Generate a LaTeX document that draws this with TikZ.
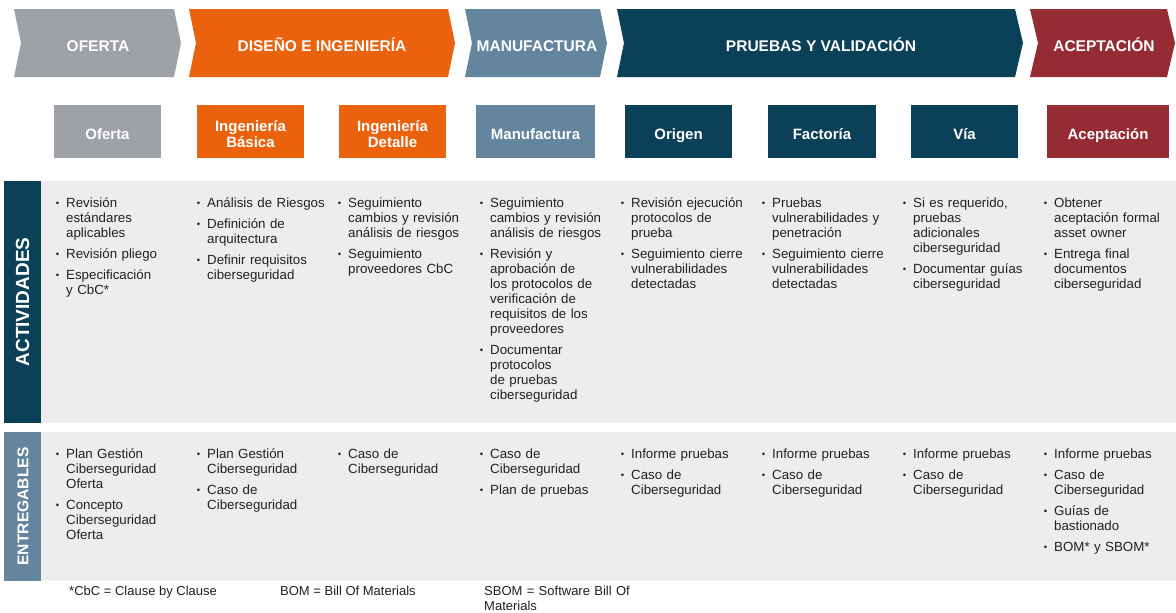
\documentclass[tikz,border=0pt]{standalone}
\usepackage{fontspec}
\setmainfont{Liberation Sans}
\usepackage{graphicx}
\definecolor{cgray}{RGB}{158,161,166}
\definecolor{corange}{RGB}{234,97,14}
\definecolor{csteel}{RGB}{100,133,158}
\definecolor{cteal}{RGB}{10,64,88}
\definecolor{cred}{RGB}{149,44,51}
\definecolor{cpanel}{RGB}{237,237,237}
\definecolor{ctext}{RGB}{33,33,33}
\newcommand{\bmark}{\llap{\raisebox{0.9pt}{\scalebox{0.72}{\textbullet}}\hspace{7pt}}}
\newcommand{\bfirst}{\leavevmode\bmark}
\newcommand{\bitem}{\par\leavevmode\bmark}
\tikzset{
  htext/.style={anchor=base, inner sep=0pt, text=white, font=\fontsize{15.5}{16}\selectfont\bfseries},
  boxshape/.style={inner sep=0pt, minimum height=53pt},
  btext/.style={anchor=base, inner sep=0pt, text=white, text width=120pt, align=center, font=\fontsize{15}{16.5}\selectfont\bfseries},
  col/.style={anchor=base west, inner sep=0pt, text width=136pt, align=left, text=ctext,
    font=\fontsize{13.3}{15}\selectfont, execute at begin node={\setlength{\parskip}{6pt}}},
  vlabel/.style={rotate=90, inner sep=0pt, text=white, font=\bfseries},
  fn/.style={anchor=base west, inner sep=0pt, text=ctext, align=left, font=\fontsize{13}{15}\selectfont}
}
\begin{document}
\begin{tikzpicture}[x=1pt,y=-1pt]
\useasboundingbox (0,0) rectangle (1176,613);
\fill[white] (0,0) rectangle (1176,613);
% header chevrons
\fill[cgray]   (14,9)   -- (174,9)  -- (181,43)  -- (174,77)  -- (14,77)   -- (21,43)   -- cycle;
\fill[corange] (189,9)  -- (448,9)  -- (455,43)  -- (448,77)  -- (189,77)  -- (196,43)  -- cycle;
\fill[csteel]  (465,9)  -- (600,9)  -- (607,43)  -- (600,77)  -- (465,77)  -- (472,43)  -- cycle;
\fill[cteal]   (617,9)  -- (1015,9) -- (1023,43) -- (1015,77) -- (617,77)  -- (624,43)  -- cycle;
\fill[cred]    (1030,9) -- (1167,9) -- (1175,43) -- (1167,77) -- (1030,77) -- (1038,43) -- cycle;
\node[htext] (h1) at (98,51) {OFERTA};
\node[htext] (h2) at (322,51) {DISEÑO E INGENIERÍA};
\node[htext] (h3) at (537,51) {MANUFACTURA};
\node[htext] (h4) at (821,51) {PRUEBAS Y VALIDACIÓN};
\node[htext] (h5) at (1104,51) {ACEPTACIÓN};
% phase boxes
\node[boxshape, fill=cgray,   minimum width=107pt] (b1) at (107.5,131.5) {};
\node[boxshape, fill=corange, minimum width=107pt] (b2) at (250.5,131.5) {};
\node[boxshape, fill=corange, minimum width=107pt] (b3) at (392.5,131.5) {};
\node[boxshape, fill=csteel,  minimum width=119pt] (b4) at (535.5,131.5) {};
\node[boxshape, fill=cteal,   minimum width=107pt] (b5) at (678.5,131.5) {};
\node[boxshape, fill=cteal,   minimum width=108pt] (b6) at (822,131.5) {};
\node[boxshape, fill=cteal,   minimum width=107pt] (b7) at (964.5,131.5) {};
\node[boxshape, fill=cred,    minimum width=122pt] (b8) at (1108,131.5) {};
\node[btext] (t1) at (107.5,139) {Oferta};
\node[btext] (t2) at (250.5,131) {Ingeniería\\Básica};
\node[btext] (t3) at (392.5,131) {Ingeniería\\Detalle};
\node[btext] (t4) at (535.5,139) {Manufactura};
\node[btext] (t5) at (678.5,139) {Origen};
\node[btext] (t6) at (822,139) {Factoría};
\node[btext] (t7) at (964.5,139) {Vía};
\node[btext] (t8) at (1108,139) {Aceptación};
% panels
\fill[cpanel] (4,181) rectangle (1176,423);
\fill[cteal]  (4,181) rectangle (41,423);
\fill[cpanel] (4,432) rectangle (1176,581);
\fill[csteel] (4,432) rectangle (41,581);
\node[vlabel, font=\fontsize{19}{19}\selectfont\bfseries] (lab1) at (22.5,302) {ACTIVIDADES};
\node[vlabel, font=\fontsize{15.6}{16}\selectfont\bfseries] (lab2) at (23,506.5) {ENTREGABLES};
% activities
\node[col] (a1) at (66,207) {\bfirst Revisión\\estándares\\aplicables \bitem Revisión pliego \bitem Especificación\\y CbC*};
\node[col] (a2) at (207,207) {\bfirst Análisis de Riesgos \bitem Definición de\\arquitectura \bitem Definir requisitos\\ciberseguridad};
\node[col] (a3) at (348,207) {\bfirst Seguimiento\\cambios y revisión\\análisis de riesgos \bitem Seguimiento\\proveedores CbC};
\node[col] (a4) at (490,207) {\bfirst Seguimiento\\cambios y revisión\\análisis de riesgos \bitem Revisión y\\aprobación de\\los protocolos de\\verificación de\\requisitos de los\\proveedores \bitem Documentar\\protocolos\\de pruebas\\ciberseguridad};
\node[col] (a5) at (631,207) {\bfirst Revisión ejecución\\protocolos de\\prueba \bitem Seguimiento cierre\\vulnerabilidades\\detectadas};
\node[col] (a6) at (772,207) {\bfirst Pruebas\\vulnerabilidades y\\penetración \bitem Seguimiento cierre\\vulnerabilidades\\detectadas};
\node[col] (a7) at (913,207) {\bfirst Si es requerido,\\pruebas\\adicionales\\ciberseguridad \bitem Documentar guías\\ciberseguridad};
\node[col] (a8) at (1054,207) {\bfirst Obtener\\aceptación formal\\asset owner \bitem Entrega final\\documentos\\ciberseguridad};
% deliverables
\node[col] (e1) at (66,458.3) {\bfirst Plan Gestión\\Ciberseguridad\\Oferta \bitem Concepto\\Ciberseguridad\\Oferta};
\node[col] (e2) at (207,458.3) {\bfirst Plan Gestión\\Ciberseguridad \bitem Caso de\\Ciberseguridad};
\node[col] (e3) at (348,458.3) {\bfirst Caso de\\Ciberseguridad};
\node[col] (e4) at (490,458.3) {\bfirst Caso de\\Ciberseguridad \bitem Plan de pruebas};
\node[col] (e5) at (631,458.3) {\bfirst Informe pruebas \bitem Caso de\\Ciberseguridad};
\node[col] (e6) at (772,458.3) {\bfirst Informe pruebas \bitem Caso de\\Ciberseguridad};
\node[col] (e7) at (913,458.3) {\bfirst Informe pruebas \bitem Caso de\\Ciberseguridad};
\node[col] (e8) at (1054,458.3) {\bfirst Informe pruebas \bitem Caso de\\Ciberseguridad \bitem Guías de\\bastionado \bitem BOM* y SBOM*};
% footnotes
\node[fn] (f1) at (69,595) {*CbC = Clause by Clause};
\node[fn] (f2) at (280,595) {BOM = Bill Of Materials};
\node[fn, text width=160pt] (f3) at (484,595) {SBOM = Software Bill Of\\Materials};
\end{tikzpicture}
\end{document}
